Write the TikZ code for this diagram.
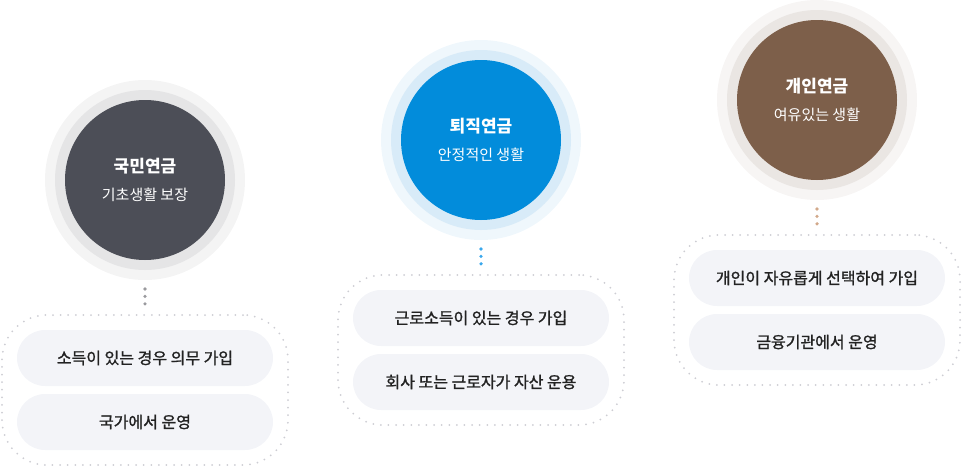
\documentclass[tikz,border=0pt]{standalone}
\usepackage{fontspec}
\setmainfont{Noto Sans CJK KR}
\font\krmid="Noto Sans CJK KR:embolden=1.3" at 16pt
\usepackage{xcolor}
\usepackage{tikz}
\usetikzlibrary{calc, positioning, fit, backgrounds}
\definecolor{kmInner}{HTML}{4C4E57}
\definecolor{kmMid}{HTML}{E5E5E6}
\definecolor{kmOuter}{HTML}{F4F4F4}
\definecolor{kmDot}{HTML}{9A9A9E}
\definecolor{tjInner}{HTML}{028CDB}
\definecolor{tjMid}{HTML}{D8EBF8}
\definecolor{tjOuter}{HTML}{EFF7FC}
\definecolor{tjDot}{HTML}{3AA8EC}
\definecolor{giInner}{HTML}{7D5F4A}
\definecolor{giMid}{HTML}{EAE6E3}
\definecolor{giOuter}{HTML}{F7F5F4}
\definecolor{giDot}{HTML}{D2A98B}
\definecolor{pillfill}{HTML}{F3F4F8}
\definecolor{pilltext}{HTML}{222222}
\definecolor{boxdots}{HTML}{CDCDD3}

\begin{document}
\begin{tikzpicture}[
        x=1pt, y=-1pt,
        pension/.style = {circle, minimum size=160pt, inner sep=0pt, outer sep=0pt, align=center, text=white, font=\fontsize{15}{28}\selectfont},
        item/.style = {rectangle, rounded corners=28pt, fill=pillfill, minimum width=256pt, minimum height=56pt, inner sep=0pt, outer sep=0pt, text=pilltext, font=\krmid},
        group/.style = {rectangle, rounded corners=45pt, draw=boxdots, line width=2pt, line cap=round, dash pattern=on 0pt off 7.6pt, inner sep=15pt, outer sep=0pt},
        link/.style = {draw=#1, line width=3.6pt, line cap=round, dash pattern=on 0pt off 7.4pt}
    ]
        \useasboundingbox (0,0) rectangle (962,466);

        % Circles
        \node (kukmin) [pension, fill=kmInner] at (145,180) {{\fontsize{17}{28}\selectfont\bfseries 국민연금}\\기초생활 보장};
        \node (toejik) [pension, fill=tjInner] at (481,140) {{\fontsize{17}{28}\selectfont\bfseries 퇴직연금}\\안정적인 생활};
        \node (gaein) [pension, fill=giInner] at (817,100) {{\fontsize{17}{28}\selectfont\bfseries 개인연금}\\여유있는 생활};

        \begin{scope}[on background layer]
            \fill [kmOuter] (kukmin) circle (100pt);
            \fill [kmMid] (kukmin) circle (90pt);
            \fill [tjOuter] (toejik) circle (100pt);
            \fill [tjMid] (toejik) circle (90pt);
            \fill [giOuter] (gaein) circle (100pt);
            \fill [giMid] (gaein) circle (90pt);
        \end{scope}

        % Items
        \node (km1) [item, below=70pt of kukmin] {소득이 있는 경우 의무 가입};
        \node (km2) [item, below=8pt of km1] {국가에서 운영};
        \node (kmbox) [group, fit=(km1)(km2)] {};

        \node (tj1) [item, below=70pt of toejik] {근로소득이 있는 경우 가입};
        \node (tj2) [item, below=8pt of tj1] {회사 또는 근로자가 자산 운용};
        \node (tjbox) [group, fit=(tj1)(tj2)] {};

        \node (gi1) [item, below=70pt of gaein] {개인이 자유롭게 선택하여 가입};
        \node (gi2) [item, below=8pt of gi1] {금융기관에서 운영};
        \node (gibox) [group, fit=(gi1)(gi2)] {};

        % Connections
        \draw [link=kmDot] ($(kukmin.south)+(0,29)$) -- ($(kmbox.north)+(0,-10)$);
        \draw [link=tjDot] ($(toejik.south)+(0,29)$) -- ($(tjbox.north)+(0,-10)$);
        \draw [link=giDot] ($(gaein.south)+(0,29)$) -- ($(gibox.north)+(0,-10)$);

    \end{tikzpicture}
\end{document}
